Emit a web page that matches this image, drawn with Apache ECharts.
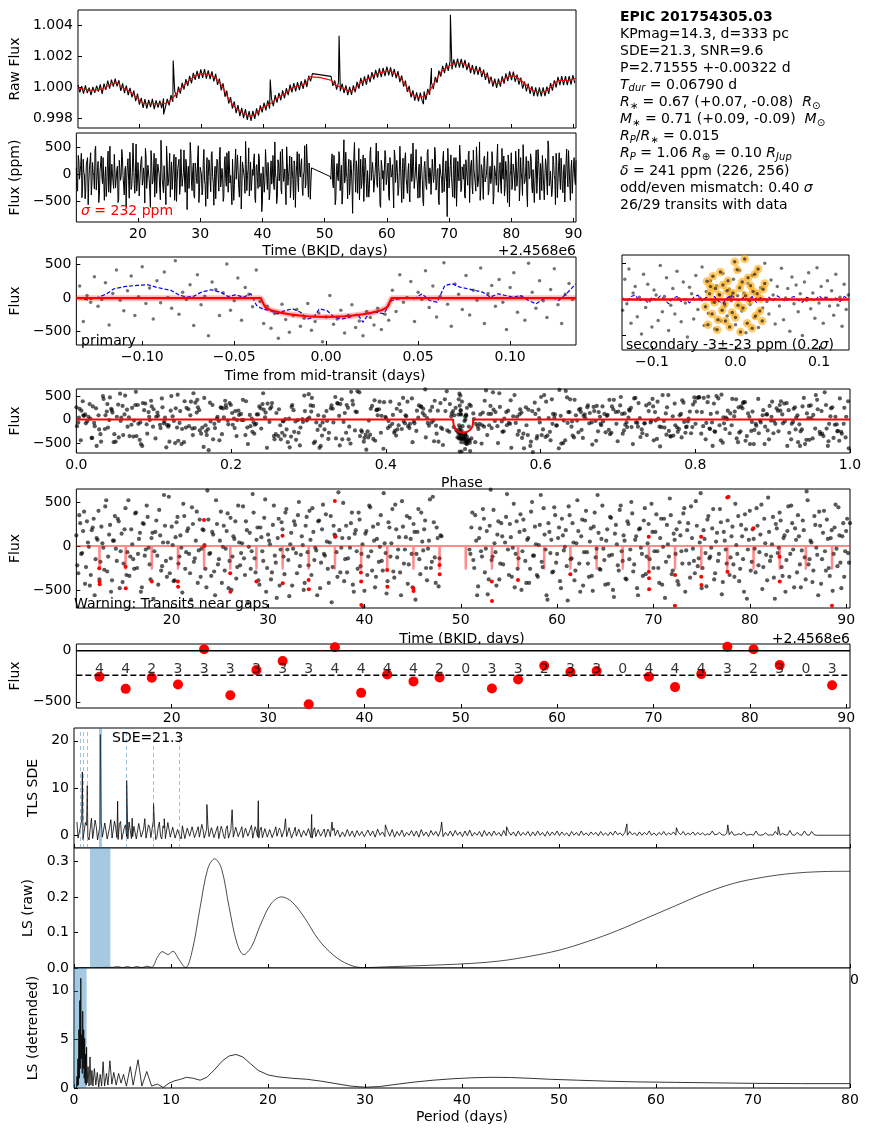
<!DOCTYPE html>
<html><head><meta charset="utf-8">
<script src="https://cdn.jsdelivr.net/npm/echarts@6/dist/echarts.min.js"></script>
<style>html,body{margin:0;padding:0;background:#fff}#c{width:870px;height:1136px}</style>
</head><body><div id="c"></div><script>
// ===== constants =====
const PERIOD = 2.71555;          // days
const T0 = 12.5;                 // BKJD - 2456800
const DEPTH_PPM = 241;
const X_MIN = 10.1, X_MAX = 90.4;
const HALF_WIN = 0.1358;

// ===== raw flux (ppm offset from 1), 0.3 d cadence =====
const rawStartA = 10.1, rawStartB = 50.9, rawStep = 0.3;
const rawA = [150,-330,60,-420,110,-390,-30,-520,20,-370,90,-280,180,-430,230,-180,420,-90,490,30,560,60,450,-240,250,-380,110,-510,-40,-660,-230,-900,-420,-1130,-700,-1340,-780,-1390,-820,-1300,-760,-1420,-850,-1330,-880,-1360,-730,-1290,-760,-1180,-520,-960,-260,-690,40,-420,280,-150,520,90,740,250,930,470,1060,540,1150,600,1180,560,1090,520,1030,380,870,150,560,-210,250,-620,-230,-1060,-640,-1390,-930,-1690,-1170,-1880,-1350,-2010,-1430,-2120,-1560,-2190,-1540,-2060,-1380,-1850,-1180,-1640,-1010,-1500,-860,-1390,-740,-1230,-520,-1010,-370,-850,-200,-720,-60,-510,170,-340,260,-270,330,-190,400,-110,510,10,740,380,880];
const rawB = [700,80,430,-160,310,-260,230,-380,120,-510,20,-500,120,-330,340,-100,600,90,700,170,820,320,980,510,1130,620,1220,650,1260,720,1330,760,1290,670,1180,580,1040,330,760,40,430,-310,80,-660,-210,-870,-340,-930,-360,-890,-280,-820,-110,-490,290,-120,660,290,1070,680,1390,910,1570,1060,1690,1160,1800,1270,1860,1270,1840,1240,1770,1110,1590,910,1440,830,1390,800,1310,660,1140,470,940,230,690,30,560,-50,550,40,710,230,890,390,1020,460,1010,350,810,160,620,-100,370,-270,230,-440,60,-580,-10,-590,-10,-590,-20,-580,30,-440,260,-230,440,-20,670,130,720,140,720,140,720,160,790,270];
const rawSpikeT = [23.9, 25.45, 41.1, 52.2, 65.8, 67.1, 70.15];
const rawSpikeF = [-1770, 1725, 500, 3340, -1100, 1250, 4700];
const trendT = [10.1,12.2,14.1,15.3,16.5,17.1,18.4,19.6,20.8,22.0,23.3,24.5,25.4,26.3,27.6,28.8,30.0,31.3,32.5,33.4,34.3,35.5,36.8,38.0,38.9,39.8,41.1,42.3,43.5,44.7,46.0,46.9,47.5,50.9,51.5,52.7,54.0,54.9,55.8,57.0,57.9,58.8,60.1,61.3,62.5,63.7,65.0,66.2,67.4,68.6,69.9,71.1,72.3,73.5,74.8,76.0,77.2,77.8,79.1,80.3,81.5,82.7,84.0,85.2,86.4,87.6,88.8,90.4];
const trendF = [-40,-200,-110,170,280,20,-260,-690,-1060,-1080,-1080,-1010,-690,-260,280,670,880,820,500,20,-690,-1340,-1700,-1880,-1660,-1340,-1080,-690,-410,-40,110,280,670,450,170,-40,-260,-40,350,560,820,930,1040,880,390,-370,-650,-540,170,970,1360,1570,1530,1190,1080,750,280,240,600,750,450,20,-300,-300,60,430,430,600];

// ===== detrended flux (ppm), two interleaved 0.2 d cadences =====
const noiseStartA = 10.1, noiseStartB = 50.9, noiseStep = 0.2, noiseOffsetC = 0.1;
const noiseA = [120,-310,260,-80,390,-240,40,-450,180,310,-150,70,-380,220,-20,450,-290,130,-520,60,340,-170,280,-60,-410,190,-330,520,-120,20,-260,380,-90,150,-470,250,-40,330,-210,90,-600,160,-110,410,-280,40,230,-350,560,-140,10,-390,270,-200,120,-530,340,-70,200,-310,440,-180,60,-420,300,-30,180,-260,630,-90,-340,130,-560,250,-150,390,-10,-280,170,-480,320,-120,80,-370,460,-220,30,-140,280,-650,150,-60,380,-300,210,-440,100,-170,530,-250,60,-380,240,-110,-590,310,-40,190,-320,420,-160,20,-450,280,-80,350,-230,110,-500,230,-70,400,-330,160,-20,-560,290,-190,470,-110,50,-420,340,-240,130,-70,610,-300,90,-400,230,-140,-20,380,-520,180,-260,300,-90,-690,140,-330,460,-60,220,-470,80,-180,350,-280,30,-540,270,-120,420,-360,190,-40,-300,510,-200,100,-430,320,-90,250,-610,160,-150,380,-50,290,-390,60,-250,560,-130,210,-460,120];
const noiseB = [-40,210,-160,350,-560,90,-60,420,-300,170,-380,640,-120,30,-450,280,-200,110,-720,330,-40,250,-350,480,-90,-260,160,-500,300,-170,70,-420,390,-110,220,-330,10,580,-240,130,-560,260,-80,-300,440,-190,90,-400,310,-50,180,-620,350,-140,40,-280,520,-200,110,-450,290,-70,-350,200,-510,380,-30,150,-270,460,-160,60,-430,330,-100,-580,240,-220,410,-60,120,-370,280,-150,500,-290,70,-480,190,-20,-340,430,-120,250,-780,160,-60,360,-250,90,-440,310,-180,20,540,-320,140,-90,-400,270,-60,370,-520,180,-200,450,-30,-310,230,-140,600,-250,80,-460,340,-120,200,-380,50,-170,420,-550,160,-40,290,-330,110,-210,480,-90,-400,240,-150,360,-600,70,-280,190,-30,430,-220,130,-490,310,-100,550,-170,20,-360,250,-80,380,-240,90,-520,170,-350,460,-40,200,-300,110,-470,290,-130,620,-210,60,-410,340,-20,-560,230,-150,400,-280,80,-340,180,-90,470,-230,120,-480,260,-60,310,-190];
const noiseCA = [-220,350,-90,170,-430,280,-10,-330,210,-560,90,400,-180,30,-270,520,-120,240,-390,60,-30,310,-480,140,-200,430,-70,-340,190,-150,370,-250,80,-520,260,-110,460,-20,-380,150,-60,290,-440,120,-230,580,-170,40,-310,220,-400,100,330,-120,-20,480,-260,170,-90,-610,250,-140,390,-50,-350,190,10,-470,300,-80,160,-290,520,-210,60,-420,230,-30,370,-170,-500,110,280,-240,40,-80,450,-330,180,-10,-260,590,-140,70,-390,210,-60,320,-520,130,20,-300,460,-190,90,-450,270,-120,380,-40,-570,150,-30,240,-310,500,-100,10,-420,330,-220,70,430,-160,-50,280,-480,190,-90,360,-260,40,-640,230,110,-350,180,-20,490,-150,-300,90,260,-440,140,-60,380,-230,20,-510,170,-120,440,-280,60,-350,250,-10,-170,600,-80,-400,210,30,-290,470,-130,100,-560,220,-40,340,-210,80,-470,160,-90,420,-320,50,190,-250,-30,530,-180,270,-420,90,-140,110];
const noiseCB = [-90,380,-250,60,-460,200,-120,310,-30,-550,230,-160,410,-70,130,-380,260,-210,40,590,-330,100,-20,-470,280,-140,360,-60,180,-420,90,-260,500,-110,20,-350,240,-180,430,-40,-610,160,70,-290,350,-90,210,-480,120,-10,-230,450,-150,260,-390,30,170,-520,300,-70,400,-200,50,-340,220,-130,580,-260,80,-30,-440,190,-110,320,-500,140,20,-280,460,-170,60,-380,250,-40,370,-210,110,-560,200,-90,290,-320,30,-150,480,-250,160,-60,-420,310,-10,-590,240,-120,350,-280,70,190,-440,120,-200,430,-50,260,-360,90,-170,510,-230,40,-480,180,-80,300,-140,-20,420,-310,150,-90,270,-410,60,-200,560,-130,220,-350,10,340,-260,110,-520,190,-40,400,-180,80,-300,230,-70,470,-240,30,-390,160,-120,330,-600,200,-20,290,-340,120,-160,450,-90,260,-470,70,350,-210,-50,180,-380,520,-150,40,-280,240,-100,390,-430,150,-60,300,-250,90,-510,210,-30,440,-190,110,-350,170,-80,260];

// in-transit points (red in the time-series panel)
const itT = [12.48,12.50,12.52,15.21,15.23,17.93,20.64,20.66,23.35,23.37,26.07,26.09,28.79,31.50,31.52,34.21,34.23,36.93,36.95,39.64,39.66,39.68,42.36,42.38,45.08,45.10,47.79,47.81,53.22,53.24,55.94,61.37,69.51,69.52,69.54,69.55,72.23,72.25,74.95,74.96,74.98,77.66,77.68,80.38,83.09,83.11,88.53];
const itF = [-254,-405,-436,-235,-481,-405,-405,-462,296,0,-311,-519,-405,117,-424,-387,-493,512,106,-300,-405,-670,-273,-462,-481,-511,-216,-322,-405,-625,-387,-322,106,-292,-368,-493,-678,-330,106,-349,-443,550,-292,201,-121,-405,-678];

// ===== individual transits =====
const transitTimes = [12.50,15.22,17.93,20.65,23.36,26.08,28.79,31.51,34.22,36.94,39.66,42.37,45.09,47.80,50.52,53.23,55.95,58.66,61.38,64.10,66.81,69.53,72.24,74.96,77.67,80.39,83.10,85.82,88.54];
const transitDepth = [-255,-373,-265,-330,13,-435,-190,-101,-523,33,-412,-232,-300,-261,null,-369,-281,-147,-209,-199,null,-255,-356,-229,39,13,-141,null,-337];
const transitCount = [4,4,2,3,3,3,3,3,3,4,4,4,4,2,0,3,3,2,3,3,0,4,4,4,3,2,3,0,3];
const COUNT_LABEL_Y = -185;

// ===== transit model (time from mid-transit, ppm) =====
const modelDt = [-0.1358,-0.0355,-0.0345,-0.033,-0.030,-0.025,-0.020,-0.015,-0.010,-0.005,0,0.005,0.010,0.015,0.020,0.025,0.030,0.033,0.0345,0.0355,0.1358];
const modelF  = [0,0,-60,-140,-180,-215,-240,-258,-270,-277,-280,-277,-270,-258,-240,-215,-180,-140,-60,0,0];

// ===== primary-transit zoom =====
const p3Start = -0.134, p3Step = 0.002;
const p3F = [180,-350,40,-60,320,-120,-20,230,-400,70,420,-30,-190,110,330,-260,20,470,-80,150,-310,260,-70,390,10,-150,560,-240,90,-20,200,-410,350,-100,30,-560,240,130,-260,80,510,-180,-40,300,-330,160,60,-130,420,-50,-380,-120,-450,-230,-600,-90,-320,-510,-260,-170,-420,-300,-80,-480,-350,-220,-650,-280,40,-390,-310,-180,-520,-260,-100,-440,-340,-560,-200,-290,-400,-150,-470,-240,-330,120,-200,350,-60,10,250,-350,90,-20,410,-140,180,-280,30,530,-90,-420,210,60,-170,340,-250,120,-30,450,-380,70,190,-120,280,-60,-470,160,380,-210,20,-330,520,90,-150,260,-40,-290,130,440,-100,-380,60,220,-20];
const p3BinT = [-0.1349,-0.1297,-0.1235,-0.1194,-0.1153,-0.1091,-0.1029,-0.0967,-0.0926,-0.0884,-0.0843,-0.0802,-0.0760,-0.0719,-0.0678,-0.0626,-0.0574,-0.0533,-0.0492,-0.0450,-0.0409,-0.0378,-0.0347,-0.0306,-0.0264,-0.0223,-0.0182,-0.0140,-0.0099,-0.0068,-0.0037,0.0004,0.0045,0.0087,0.0128,0.0169,0.0200,0.0231,0.0273,0.0314,0.0355,0.0397,0.0438,0.0479,0.0521,0.0562,0.0603,0.0645,0.0686,0.0727,0.0769,0.0810,0.0851,0.0893,0.0934,0.0975,0.1016,0.1058,0.1099,0.1140,0.1182,0.1223,0.1264,0.1306,0.1357];
const p3BinF = [0,-25,15,65,140,175,190,200,165,140,115,50,15,30,90,125,90,25,50,15,65,-110,-160,-185,-235,-185,-160,-210,-310,-285,-160,-185,-285,-310,-285,-235,-360,-235,-210,-235,-35,-10,15,-10,65,-35,-60,190,215,165,140,115,90,15,65,40,15,40,-35,-85,-10,15,-35,65,215];

// ===== secondary-eclipse zoom =====
const p4Start = -0.135, p4Step = 0.0025;
const p4F = [-150,280,-60,420,-330,90,180,-240,30,-480,350,-110,210,-20,-380,130,60,-290,470,-170,40,300,-430,-80,150,-200,390,10,-310,240,-50,-520,170,80,-270,330,-140,20,450,-360,110,-190,260,-40,-410,190,70,-300,360,-90,-230,140,-20,280,-350,50,400,-160,90,-460,220,-70,330,-250,10,-390,160,-120,500,-30,-200,270,60,-340,180,-90,430,-280,20,150,-440,310,-60,200,-170,80,-500,240,-10,370,-130,90,-260,440,-50,180,-330,20,260,-90,120,-220,350,-80,30,-370,210,-140,60];
const p4OT = [-0.036,-0.034,-0.033,-0.031,-0.030,-0.028,-0.027,-0.025,-0.024,-0.022,-0.021,-0.019,-0.018,-0.016,-0.015,-0.013,-0.012,-0.010,-0.009,-0.007,-0.006,-0.004,-0.003,-0.001,0.000,0.002,0.003,0.005,0.006,0.008,0.009,0.011,0.012,0.014,0.015,0.017,0.018,0.020,0.021,0.023,0.024,0.026,0.027,0.029,0.030,0.032,0.033,0.035];
const p4OF = [-100,250,-350,80,180,-200,320,-40,150,-420,-280,60,380,-150,200,-60,-300,120,260,-380,30,-180,90,520,-250,410,-80,160,-450,240,-120,560,50,-330,300,-20,190,-400,110,350,-230,80,420,-160,10,-300,140,220];
const p4BinStart = -0.135, p4BinStep = 0.005;
const p4BinF = [20,-30,40,60,-20,10,-40,30,-10,50,0,-60,20,40,-30,10,-50,30,60,-20,30,-10,40,-30,-50,20,60,10,-20,30,-10,40,-40,20,0,30,-20,50,10,-30,20,40,-10,-40,30,10,-20,50,0,30,-10,20,-30,40,10];

// ===== TLS SDE spectrum =====
const tlsStart = 0.3, tlsStep = 0.25, tlsOffsetExtra = 0.125;
const tlsBase = [2.8,-0.9,3.4,-0.6,2.1,-1.0,3.6,-0.4,1.8,-0.8,3.1,-0.7,2.5,-1.1,3.3,-0.5,1.6,-0.9,2.9,-0.6,2.2,-0.8,3.0,-0.3,1.9,-1.0,2.6,-0.5,3.5,-0.7,1.7,-0.9,2.4,-0.4,2.8,-0.8,1.5,-0.6,2.3,
-0.7,2.0,-0.5,1.6,-0.8,2.4,-0.3,1.3,-0.6,2.1,-0.4,1.8,-0.7,1.2,-0.5,2.2,-0.2,1.5,-0.6,1.9,-0.4,1.1,-0.7,2.0,-0.3,1.6,-0.5,1.3,-0.6,1.8,-0.2,1.4,-0.5,2.1,-0.4,1.0,-0.6,1.7,-0.3,1.5,
-0.5,1.3,-0.3,1.8,-0.6,1.0,-0.2,1.5,-0.5,1.2,-0.4,1.7,-0.1,0.9,-0.5,1.4,-0.3,1.1,-0.6,1.6,-0.2,1.0,-0.4,1.3,-0.3,0.8,-0.5,1.5,-0.1,1.2,-0.4,0.9,-0.2,1.4,-0.5,1.0,-0.3,1.2,-0.1,0.8,
-0.3,1.1,-0.1,0.9,-0.4,1.3,0.0,0.7,-0.3,1.0,-0.2,1.2,-0.4,0.8,-0.1,1.1,-0.3,0.6,0.0,1.0,-0.2,0.9,-0.4,1.2,-0.1,0.7,-0.3,1.0,0.0,0.8,-0.2,1.1,-0.3,0.6,-0.1,0.9,-0.2,1.0,0.0,0.7,-0.3,0.9,-0.1,1.1,-0.2,0.6,0.0,0.8,-0.3,1.0,-0.1,0.7,-0.2,0.9,0.0,0.6,-0.2,1.0,-0.1,0.8,0.0,0.7,-0.2,0.9,-0.1,0.6,0.0,0.8,-0.2,0.7,-0.1,0.9,0.0,0.6,-0.2,0.8,-0.1,0.7,0.0,0.9,
-0.1,0.7,0.0,0.5,-0.2,0.8,0.0,0.6,-0.1,0.9,0.0,0.5,-0.1,0.7,0.1,0.6,-0.1,0.8,0.0,0.5,-0.1,0.7,0.0,0.9,0.1,0.5,-0.1,0.6,0.0,0.8,0.1,0.5,-0.1,0.7,0.0,0.6,0.1,0.9,0.0,0.5,-0.1,0.6,0.1,0.8,0.0,0.5,0.1,0.7,0.0,0.6,0.1,0.8,0.0,0.5,0.1,0.7,0.0,0.6,0.1,0.5,
0.0,0.3,0.1,0.9,0.1,0.2,0.6,0.1,0.0,0.4,0.1,0.8,0.0,0.1,0.3,0.1,0.7,0.0,0.1,0.2,0.0,0.9,0.1,0.0,0.1,0.5,0.0,0.1,0.0,0.8,0.1,0.0,0.4,0.1,0.0,1.0,0.1,0.0,0.6,0.1,0.0,0.9,0.1,0.0,0.8,0.1,0.0];
const tlsExtra = [-0.6,1.9,-0.9,2.7,-0.3,1.4,-0.7,3.2,-1.0,2.0,-0.4,2.6,-0.8,1.7,-0.6,3.0,-0.5,2.3,-0.9,1.5,-0.3,2.8,-0.7,1.9,-0.8,2.5,-0.4,1.3,-0.6,2.2,-0.5,3.1,-0.9,1.6,-0.3,2.0,-0.7,2.7,-0.4,
1.7,-0.6,1.2,-0.3,2.0,-0.7,1.5,-0.2,1.8,-0.5,1.0,-0.4,2.3,-0.6,1.3,-0.3,1.6,-0.5,1.1,-0.7,1.9,-0.2,1.4,-0.6,1.2,-0.4,1.7,-0.3,1.0,-0.5,1.5,-0.2,1.3,-0.6,1.8,-0.3,1.1,-0.5,1.4,-0.4,
1.2,-0.5,0.9,-0.2,1.5,-0.4,1.1,-0.3,1.6,-0.6,0.8,-0.2,1.3,-0.4,1.0,-0.1,1.4,-0.5,0.9,-0.3,1.2,-0.2,0.8,-0.4,1.3,-0.3,1.0,-0.1,1.1,-0.4,0.7,-0.3,1.2,-0.2,0.9,-0.4,1.0,-0.1,0.8,-0.3];
const tlsPeakP = [0.86,1.37,2.7155,4.5,5.43,6.0,8.2,9.3,13.7,16.3,19.0,21.8,24.5,26.6,32.1,37.9,44.6,57.0,62.1,67.4,72.6,76.6,80];
const tlsPeakV = [13.4,10.5,21.3,7.2,11.6,3.6,6.7,3.5,6.5,5.4,7.3,3.5,4.4,2.8,2.2,2.8,1.8,2.4,1.6,2.2,1.8,0,0];

// ===== Lomb-Scargle periodograms =====
const lsRawP = [0,0.5,1,2,3,4,4.5,5,5.5,6,6.5,7,7.5,8,8.6,9.1,9.7,10.2,10.8,11.5,12.2,13,13.8,14.5,15.2,16,16.8,17.5,18.3,19.2,20.3,21.4,22.5,23.8,25.2,26.8,28.3,29.8,32,35,38,41,44,47,50,53,56,59,62,65,68,71,74,77,80];
const lsRawV = [0,0.0005,0.001,0.001,0.0015,0.002,0.004,0.001,0.004,0.001,0.004,0.001,0.005,0.002,0.03,0.046,0.038,0.047,0.025,0.001,0.05,0.17,0.28,0.307,0.28,0.17,0.07,0.038,0.06,0.12,0.18,0.2,0.185,0.14,0.08,0.035,0.01,0.001,0.003,0.006,0.009,0.013,0.02,0.033,0.05,0.075,0.105,0.14,0.175,0.21,0.238,0.255,0.266,0.271,0.272];
const lsRawSpan = [1.65, 3.75];
const lsDetP = [0.25,0.3,0.35,0.4,0.45,0.5,0.55,0.6,0.65,0.7,0.75,0.8,0.85,0.9,0.95,1.0,1.05,1.1,1.15,1.2,1.25,1.3,1.35,1.45,1.55,1.65,1.75,1.85,1.95,2.1,2.25,2.4,2.55,2.7,2.85,3.0,3.15,3.35,3.5,3.7,3.9,4.1,4.35,4.6,4.85,5.1,5.4,5.8,6.1,6.6,7.0,7.5,8.0,8.6,9.2,9.8,10.4,11.0,11.6,12.3,13.0,13.7,14.5,15.3,16.0,16.7,17.4,18.2,19.0,20.0,21.0,22.5,24,25.5,27,28.5,30,31.5,33,35,37,39,41,43,45,47,49,52,55,58,62,66,70,75,80];
const lsDetV = [0,1.2,0.2,3,0.3,6,1,9,2,11.3,3,5.5,1.5,7.9,2,6,1,5.1,0.5,3.5,0.3,4.2,0.5,2.2,0.2,3.2,0.3,1.8,0.2,2.0,0.3,1.6,0.1,1.4,0.2,2.7,0.2,1.5,0.3,2.8,0.4,1.6,0.3,1.5,0.5,1.4,0.2,2.2,0.3,2.9,0.2,1.7,0.2,0.4,0.05,0.5,0.75,0.9,1.1,1.0,0.8,1.1,1.9,2.8,3.3,3.45,3.2,2.5,1.8,1.35,1.15,1.0,0.9,0.7,0.45,0.2,0.08,0.15,0.35,0.6,0.8,0.95,1.05,1.1,1.08,1.0,0.9,0.8,0.7,0.63,0.58,0.53,0.48,0.45,0.45];
const lsDetSpan = [0, 1.3];

// ===== tick values =====
const timeTicks = [20,30,40,50,60,70,80,90];
const periodTicks = [0,10,20,30,40,50,60,70,80];

// ======================= build =======================
const FONT = 'DejaVu Sans';
const FS = 14;
const minus = s => String(s).replace('-', '\u2212');

const gridBoxes = [
  [74,10,502,118],[74,133,502,89],[74,257,502,88],[622,255,227,95],[74,389,776,64],
  [74,489,776,119],[74,644,776,64],[74,728,776,120],[74,848,776,120],[74,968,776,120]
];
const grids = gridBoxes.map(b => ({left:b[0], top:b[1], width:b[2], height:b[3], show:true,
  borderColor:'#000', borderWidth:1, backgroundColor:'#fff', containLabel:false}));

function axis(gi, min, max, ticks, showLabels, digits, extra) {
  return Object.assign({
    gridIndex: gi, type:'value', min, max,
    axisLine:{show:false, onZero:false}, splitLine:{show:false},
    axisTick:{show:true, inside:true, length:4, lineStyle:{color:'#000', width:1}, customValues:ticks},
    axisLabel:{show:showLabels, customValues:ticks, color:'#000', fontFamily:FONT, fontSize:FS, margin:5,
      formatter: v => minus(digits == null ? Math.round(v) : v.toFixed(digits))},
    nameTextStyle:{fontFamily:FONT, fontSize:FS, color:'#000'}
  }, extra || {});
}
function yname(name, gap) { return {name, nameLocation:'middle', nameGap:gap}; }

const xAxes = [
  axis(0, X_MIN, X_MAX, timeTicks, false),
  axis(1, X_MIN, X_MAX, timeTicks, true),
  axis(2, -HALF_WIN, HALF_WIN, [-0.1,-0.05,0,0.05,0.1], true, 2),
  axis(3, -HALF_WIN, HALF_WIN, [-0.1,0,0.1], true, 1),
  axis(4, 0, 1, [0,0.2,0.4,0.6,0.8,1.0], true, 1),
  axis(5, X_MIN, X_MAX, timeTicks, true),
  axis(6, X_MIN, X_MAX, timeTicks, true),
  axis(7, 0, 80, periodTicks, false),
  axis(8, 0, 80, periodTicks, false),
  axis(9, 0, 80, periodTicks, true)
];
xAxes[6].axisLabel.margin = 3;
const yAxes = [
  axis(0, 0.99735, 1.00501, [0.998,1.000,1.002,1.004], true, 3, yname('Raw Flux', 51)),
  axis(1, -880, 765, [-500,0,500], true, null, yname('Flux (ppm)', 49)),
  axis(2, -700, 615, [-500,0,500], true, null, yname('Flux', 49)),
  axis(3, -700, 615, [-500,0,500], false),
  axis(4, -710, 650, [-500,0,500], true, null, yname('Flux', 49)),
  axis(5, -705, 648, [-500,0,500], true, null, yname('Flux', 49)),
  axis(6, -560, 65, [-500,0], true, null, yname('Flux', 49)),
  axis(7, -2.7, 22.7, [0,10,20], true, null, yname('TLS SDE', 28)),
  axis(8, 0, 0.3375, [0,0.1,0.2,0.3], true, 1, yname('LS (raw)', 32)),
  axis(9, 0, 12.35, [0,5,10], true, null, yname('LS (detrended)', 28))
];

const series = [];
function line(i, data, color, width, extra) {
  series.push(Object.assign({type:'line', xAxisIndex:i, yAxisIndex:i, data, symbol:'none', silent:true,
    animation:false, lineStyle:{color, width}}, extra || {}));
}
function dots(i, data, color, size, extra) {
  series.push(Object.assign({type:'scatter', xAxisIndex:i, yAxisIndex:i, data, symbolSize:size, silent:true,
    animation:false, itemStyle:{color, opacity:1}}, extra || {}));
}
const byX = (a, b) => a[0] - b[0];

// --- derived point lists ---
const rawPts = [
  ...rawA.map((v,k) => [rawStartA + rawStep*k, 1 + v*1e-6]),
  ...rawSpikeT.map((t,k) => [t, 1 + rawSpikeF[k]*1e-6]),
  ...rawB.map((v,k) => [rawStartB + rawStep*k, 1 + v*1e-6])
].sort(byX);
const trendPts = trendT.map((t,k) => [t, 1 + trendF[k]*1e-6]);
const detPts = [
  ...noiseA.map((v,k) => [noiseStartA + noiseStep*k, v]),
  ...noiseCA.map((v,k) => [noiseStartA + noiseOffsetC + noiseStep*k, v]),
  ...noiseB.map((v,k) => [noiseStartB + noiseStep*k, v]),
  ...noiseCB.map((v,k) => [noiseStartB + noiseOffsetC + noiseStep*k, v])
].sort(byX);
const itPts = itT.map((t,k) => [t, itF[k]]);
const phaseOf = t => { let p = ((t - T0)/PERIOD + 0.5) % 1; return p < 0 ? p + 1 : p; };
const foldPts = [...detPts, ...itPts].map(p => [phaseOf(p[0]), p[1]]);
const modelPts = modelDt.map((d,k) => [d, modelF[k]]);
const modelPhase = [[0,0]];
modelDt.forEach((d,k) => { if (Math.abs(d) < 0.1) modelPhase.push([0.5 + d/PERIOD, modelF[k]]); });
modelPhase.push([1,0]);
const modelTime = [[X_MIN,0]];
transitTimes.forEach(tc => modelDt.forEach((d,k) => { if (Math.abs(d) < 0.1) modelTime.push([tc + d, modelF[k]]); }));
modelTime.push([X_MAX,0]);

// P1 raw flux
line(0, rawPts, '#000', 1.1);
line(0, trendPts, '#ff0000', 1.1, {smooth:0.3});
// P2 detrended
line(1, detPts, '#000', 1.0);
// P3 primary
dots(2, p3F.map((v,k) => [p3Start + p3Step*k, v]), 'rgba(0,0,0,0.55)', 3.5);
line(2, p3BinT.map((t,k) => [t, p3BinF[k]]), '#0000ff', 1.2, {lineStyle:{color:'#0000ff', width:1.2, type:[4,2]}});
line(2, modelPts, 'rgba(255,0,0,0.25)', 6);
line(2, modelPts, '#ff0000', 2.2);
// P4 secondary
dots(3, p4F.map((v,k) => [p4Start + p4Step*k, v]), 'rgba(0,0,0,0.55)', 3.5);
dots(3, p4OT.map((t,k) => [t, p4OF[k]]), 'rgba(255,165,0,0.6)', 8.5);
dots(3, p4OT.map((t,k) => [t, p4OF[k]]), 'rgba(0,0,0,0.6)', 3.5);
line(3, p4BinF.map((v,k) => [p4BinStart + p4BinStep*k, v]), '#0000ff', 1.1, {lineStyle:{color:'#0000ff', width:1.1, type:[4,2]}});
line(3, [[-HALF_WIN,0],[HALF_WIN,0]], '#ff0000', 2.5);
// P5 phase fold
dots(4, foldPts, 'rgba(0,0,0,0.65)', 4.2);
line(4, modelPhase, '#ff0000', 2);
// P6 time series with transits
dots(5, detPts, 'rgba(0,0,0,0.65)', 4.2);
dots(5, itPts, '#ff0000', 4);
line(5, modelTime, 'rgba(255,0,0,0.45)', 2);
// P7 per-transit depths
line(6, [[X_MIN,0],[X_MAX,0]], '#000', 1.5);
line(6, [[X_MIN,-DEPTH_PPM],[X_MAX,-DEPTH_PPM]], '#000', 1.5, {lineStyle:{color:'#000', width:1.5, type:[6,3]}});
dots(6, transitTimes.map((t,k) => transitDepth[k] == null ? null : [t, transitDepth[k]]).filter(Boolean), '#ff0000', 10);
series.push({type:'scatter', xAxisIndex:6, yAxisIndex:6, silent:true, animation:false, symbolSize:1,
  itemStyle:{color:'rgba(0,0,0,0)'}, z:5,
  data: transitTimes.map((t,k) => [t, COUNT_LABEL_Y, transitCount[k]]),
  label:{show:true, position:'inside', formatter: p => String(p.data[2]), color:'#000', fontFamily:FONT, fontSize:FS}});
// P8 TLS
const tlsPts = [
  ...tlsBase.map((v,k) => [tlsStart + tlsStep*k, v]),
  ...tlsExtra.map((v,k) => [tlsStart + tlsOffsetExtra + tlsStep*k, v]),
  ...tlsPeakP.map((p,k) => [p, tlsPeakV[k]])
].sort(byX);
const harmonics = [PERIOD/4, PERIOD/3, PERIOD/2, 2*PERIOD, 3*PERIOD, 4*PERIOD];
line(7, tlsPts, '#000', 0.8, {markLine:{symbol:['none','none'], silent:true, animation:false, label:{show:false},
  data:[{xAxis:PERIOD, lineStyle:{color:'rgba(31,119,180,0.4)', width:3, type:'solid'}},
    ...harmonics.map(h => ({xAxis:h, lineStyle:{color:'rgba(31,119,180,0.45)', width:1, type:[4,3]}}))]}});
// P9 LS raw
line(8, lsRawP.map((p,k) => [p, lsRawV[k]]), '#000', 0.7, {smooth:0.35,
  markArea:{silent:true, animation:false, itemStyle:{color:'rgba(31,119,180,0.4)'}, data:[[{xAxis:lsRawSpan[0]},{xAxis:lsRawSpan[1]}]]}});
// P10 LS detrended
line(9, lsDetP.map((p,k) => [p, lsDetV[k]]), '#000', 0.8, {
  markArea:{silent:true, animation:false, itemStyle:{color:'rgba(31,119,180,0.4)'}, data:[[{xAxis:lsDetSpan[0]},{xAxis:lsDetSpan[1]}]]}});

// --- texts ---
const rich = {
  n:{fontFamily:FONT, fontSize:FS, lineHeight:17, fill:'#000'},
  b:{fontFamily:FONT, fontSize:FS, lineHeight:17, fontWeight:'bold', fill:'#000'},
  i:{fontFamily:FONT, fontSize:FS, lineHeight:17, fontStyle:'italic', fill:'#000'},
  s:{fontFamily:FONT, fontSize:10, lineHeight:17, verticalAlign:'bottom', fill:'#000'},
  si:{fontFamily:FONT, fontSize:10, lineHeight:17, fontStyle:'italic', verticalAlign:'bottom', fill:'#000'},
  r:{fontFamily:FONT, fontSize:FS, lineHeight:17, fill:'#ff0000'},
  ri:{fontFamily:FONT, fontSize:FS, lineHeight:17, fontStyle:'italic', fill:'#ff0000'}
};
const infoLines = [
  '{b|EPIC 201754305.03}',
  '{n|KPmag=14.3, d=333 pc}',
  '{n|SDE=21.3, SNR=9.6}',
  '{n|P=2.71555 +-0.00322 d}',
  '{i|T}{si|dur}{n| = 0.06790 d}',
  '{i|R}{s|\u2217}{n| = 0.67 (+0.07, -0.08)  }{i|R}{s|\u2299}',
  '{i|M}{s|\u2217}{n| = 0.71 (+0.09, -0.09)  }{i|M}{s|\u2299}',
  '{i|R}{si|P}{n|/}{i|R}{s|\u2217}{n| = 0.015}',
  '{i|R}{si|P}{n| = 1.06 }{i|R}{s|\u2295}{n| = 0.10 }{i|R}{si|Jup}',
  '{i|\u03b4}{n| = 241 ppm (226, 256)}',
  '{n|odd/even mismatch: 0.40 }{i|\u03c3}',
  '{n|26/29 transits with data}'
];
function txt(x, y, text, align, z, extra) {
  return Object.assign({type:'text', x, y, z, silent:true,
    style:Object.assign({text, rich, align, verticalAlign:'middle', fontFamily:FONT, fontSize:FS, fill:'#000'}, extra || {})});
}
const graphics = infoLines.map((t,k) => txt(620, 17 + 17.1*k, t, 'left', 10));
graphics.push(
  txt(81, 211, '{ri|\u03c3}{r| = 232 ppm}', 'left', 100),
  txt(325, 251, '{n|Time (BKJD, days)}', 'center', -1),
  txt(576, 251, '{n|+2.4568e6}', 'right', -1),
  txt(81, 341, '{n|primary}', 'left', 100),
  txt(626, 345, '{n|secondary -3\u00b1-23 ppm (0.2}{i|\u03c3}{n|)}', 'left', 100),
  txt(325, 376, '{n|Time from mid-transit (days)}', 'center', -1),
  txt(462, 483, '{n|Phase}', 'center', -1),
  txt(74, 604, '{n|Warning: Transits near gaps}', 'left', 100),
  txt(462, 639, '{n|Time (BKJD, days)}', 'center', -1),
  txt(850, 639, '{n|+2.4568e6}', 'right', -1),
  txt(112, 738, '{n|SDE=21.3}', 'left', 100),
  txt(850, 980, '{n|0}', 'left', -1),
  txt(462, 1117, '{n|Period (days)}', 'center', 10)
);

const chart = echarts.init(document.getElementById('c'), null, {renderer:'canvas', width:870, height:1136});
chart.setOption({
  animation:false,
  backgroundColor:'#fff',
  grid:grids, xAxis:xAxes, yAxis:yAxes, series,
  graphic:{elements:graphics}
});
</script></body></html>
